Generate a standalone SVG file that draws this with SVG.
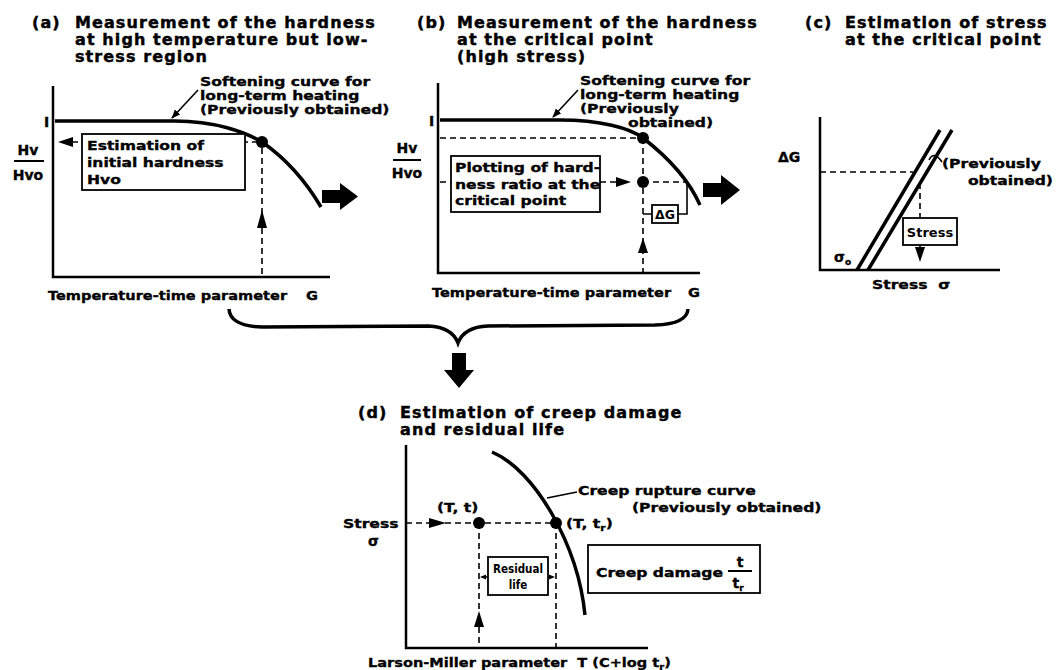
<svg xmlns="http://www.w3.org/2000/svg" width="1058" height="670" viewBox="0 0 1058 670">
<style>
text{font-family:"DejaVu Sans","Liberation Sans",sans-serif;font-weight:bold;fill:#000}
.t{font-size:16px;letter-spacing:1.1px;stroke:#000;stroke-width:0.45}
.l{font-size:13px;stroke:#000;stroke-width:0.35}
.h{font-size:14px;stroke:#000;stroke-width:0.35}
.pre{white-space:pre}
.sm{font-family:"DejaVu Sans Condensed","DejaVu Sans",sans-serif;font-size:11.5px}
.ax{stroke:#000;stroke-width:2.5;fill:none}
.cv{stroke:#000;stroke-width:3.5;fill:none}
.d{stroke:#000;stroke-width:1.6;stroke-dasharray:6 4;fill:none}
.th{stroke:#000;stroke-width:1.6;fill:none}
.bx{fill:#fff;stroke:#000;stroke-width:1.8}
.ah{fill:#000}
</style>
<defs>
<marker id="la" viewBox="0 0 10 10" refX="9" refY="5" markerWidth="9" markerHeight="9" markerUnits="userSpaceOnUse" orient="auto"><path d="M0,1 L10,5 L0,9 z"/></marker>
</defs>
<rect width="1058" height="670" fill="#fff"/>

<!-- Panel (a) -->
<g id="panel-a">
<text class="t" x="32" y="28">(a)</text>
<text class="t" x="75" y="28">Measurement of the hardness</text>
<text class="t" x="75" y="45">at high temperature but low-</text>
<text class="t" x="75" y="62">stress region</text>
<path class="ax" d="M53,86 V277 H330"/>
<text class="h" x="44" y="127">I</text>
<text class="h" x="28" y="155" text-anchor="middle">Hv</text>
<path class="th" d="M14,161 H44" style="stroke-width:2"/>
<text class="h" x="28" y="180" text-anchor="middle">Hvo</text>
<path class="cv" d="M55,121 H175 C215,121 245,132 262,142 C285,158 305,180 321,207"/>
<path class="d" d="M72,142 H262"/>
<polygon class="ah" points="58,142 73,137 73,147"/>
<path class="d" d="M262,148 V277"/>
<polygon class="ah" points="262,210 257,228 267,228"/>
<circle cx="262" cy="142" r="6"/>
<text class="l" transform="translate(200,86) scale(1.2,1)">Softening curve for</text>
<text class="l" transform="translate(200,100) scale(1.2,1)">long-term heating</text>
<text class="l" transform="translate(200,114) scale(1.2,1)">(Previously obtained)</text>
<path class="th" d="M198,90 L172,118" marker-end="url(#la)"/>
<g id="box-estimation">
<rect class="bx" x="82" y="134" width="163" height="56"/>
<text class="l" transform="translate(87,150) scale(1.2,1)">Estimation of</text>
<text class="l" transform="translate(87,167) scale(1.2,1)">initial hardness</text>
<text class="l" transform="translate(87,184) scale(1.2,1)">Hvo</text>
</g>
<text class="l" transform="translate(48,300) scale(1.12,1)">Temperature-time parameter</text>
<text class="l" transform="translate(306,300) scale(1.12,1)">G</text>
</g>

<!-- Panel (b) -->
<g id="panel-b">
<text class="t" x="417" y="28">(b)</text>
<text class="t" x="457" y="28">Measurement of the hardness</text>
<text class="t" x="457" y="45">at the critical point</text>
<text class="t" x="457" y="62">(high stress)</text>
<path class="ax" d="M438,83 V273 H700"/>
<text class="h" x="429" y="126">I</text>
<text class="h" x="407" y="153" text-anchor="middle">Hv</text>
<path class="th" d="M393,160 H421" style="stroke-width:2"/>
<text class="h" x="407" y="178" text-anchor="middle">Hvo</text>
<path class="cv" d="M440,120 H560 C600,120 630,128 643,138 C665,155 688,178 700,205"/>
<path class="d" d="M440,138 H643"/>
<path class="d" d="M643,138 V273"/>
<path class="d" d="M440,182 H618"/>
<path class="d" d="M643,182 H687"/>
<polygon class="ah" points="631,182 616,177 616,187"/>
<polygon class="ah" points="643,238 638,253 648,253"/>
<circle cx="643" cy="138" r="6"/>
<circle cx="643" cy="182" r="6"/>
<path class="th" d="M643,214 H652 M678,214 H687 V182"/>
<g id="box-dg">
<rect class="bx" x="652" y="205" width="26" height="18"/>
<text x="665" y="219" text-anchor="middle" style="font-size:12.5px">ΔG</text>
</g>
<text class="l" transform="translate(580,85) scale(1.2,1)">Softening curve for</text>
<text class="l" transform="translate(580,99) scale(1.2,1)">long-term heating</text>
<text class="l" transform="translate(580,113) scale(1.2,1)">(Previously</text>
<text class="l" transform="translate(628,127) scale(1.2,1)">obtained)</text>
<path class="th" d="M578,90 L553,117" marker-end="url(#la)"/>
<g id="box-plotting">
<rect class="bx" x="451" y="156" width="149" height="56"/>
<text class="l" transform="translate(455,172) scale(1.2,1)">Plotting of hard-</text>
<text class="l" transform="translate(455,189) scale(1.2,1)">ness ratio at the</text>
<text class="l" transform="translate(455,205) scale(1.2,1)">critical point</text>
</g>
<text class="l" transform="translate(432,297) scale(1.12,1)">Temperature-time parameter</text>
<text class="l" transform="translate(688,297) scale(1.12,1)">G</text>
</g>

<!-- Panel (c) -->
<g id="panel-c">
<text class="t" x="805" y="28">(c)</text>
<text class="t" x="845" y="28">Estimation of stress</text>
<text class="t" x="845" y="45">at the critical point</text>
<path class="ax" d="M820,117 V270 H1000"/>
<text class="h" x="778" y="162">ΔG</text>
<path class="cv" d="M857,270 L940,130 M868,270 L952,130"/>
<path class="d" d="M820,172 H913"/>
<path class="d" d="M920,183 V248"/>
<polygon class="ah" points="920,262 915,247 925,247"/>
<g id="box-stress">
<rect class="bx" x="903" y="218" width="54" height="27"/>
<text x="930" y="237" text-anchor="middle" style="font-size:13px">Stress</text>
</g>
<path class="th" d="M929,160 Q934,150 942,162"/>
<text class="l" transform="translate(942,168) scale(1.2,1)">(Previously</text>
<text class="l" text-anchor="end" transform="translate(1053,185) scale(1.2,1)">obtained)</text>
<text class="h" x="834" y="262">σ<tspan dy="3" style="font-size:9px">o</tspan></text>
<text class="l pre" transform="translate(872,289) scale(1.2,1)">Stress  σ</text>
</g>

<!-- Connectors -->
<g id="connectors">
<polygon id="arrow-a" class="ah" points="322,190 340,190 340,183 358,196.5 340,210 340,203 322,203"/>
<polygon id="arrow-b" class="ah" points="703,183 721,183 721,175 740,190 721,205 721,197 703,197"/>
<path id="brace" class="cv" d="M229,309 Q230,326 262,327 L428,326 Q452,327 458,343 Q464,327 488,326 L655,325 Q687,324 688,309"/>
<polygon id="arrow-down" class="ah" points="452,353 466,353 466,370 474,370 459,388 444,370 452,370"/>
</g>

<!-- Panel (d) -->
<g id="panel-d">
<text class="t" x="358" y="418">(d)</text>
<text class="t" x="400" y="418">Estimation of creep damage</text>
<text class="t" x="400" y="435">and residual life</text>
<path class="ax" d="M406,445 V648 H648"/>
<path class="cv" d="M492,452 C535,470 578,545 585,615"/>
<path class="d" d="M406,523 H430 M445,523 H556"/>
<polygon class="ah" points="446,523 429,518 429,528"/>
<path class="d" d="M479,523 V612 M479,627 V648"/>
<polygon class="ah" points="479,611 474,627 484,627"/>
<path class="d" d="M556,523 V648"/>
<circle cx="479" cy="523" r="6"/>
<circle cx="556" cy="523" r="6"/>
<text class="l" transform="translate(343,528) scale(1.2,1)">Stress</text>
<text class="h" x="368" y="546">σ</text>
<text class="l" transform="translate(437,512) scale(1.2,1)">(T, t)</text>
<text class="l" transform="translate(566,528) scale(1.2,1)">(T, t<tspan dy="3" style="font-size:9px">r</tspan><tspan dy="-3">)</tspan></text>
<path class="th" d="M547,498 L577,492"/>
<text class="l" transform="translate(578,495) scale(1.2,1)">Creep rupture curve</text>
<text class="l" transform="translate(632,512) scale(1.2,1)">(Previously obtained)</text>
<g id="box-residual">
<rect class="bx" x="488" y="557" width="60" height="38"/>
<text class="sm" x="518" y="573" text-anchor="middle">Residual</text>
<text class="sm" x="518" y="589" text-anchor="middle">life</text>
</g>
<path class="th" d="M484,577 H488 M548,577 H551"/>
<polygon class="ah" points="480,577 486,574.5 486,579.5"/>
<polygon class="ah" points="555,577 549,574.5 549,579.5"/>
<g id="box-damage">
<rect class="bx" x="588" y="545" width="172" height="48"/>
<text class="l" transform="translate(596,577) scale(1.2,1)">Creep damage</text>
<text class="h" x="740" y="567" text-anchor="middle">t</text>
<path class="th" d="M728,571 H752" style="stroke-width:2"/>
<text class="h" x="738" y="588" text-anchor="middle">t<tspan dy="3" style="font-size:9px">r</tspan></text>
</g>
<text class="l pre" transform="translate(368,667) scale(1.12,1)">Larson-Miller parameter  T (C+log t<tspan dy="3" style="font-size:9px">r</tspan><tspan dy="-3">)</tspan></text>
</g>
</svg>
